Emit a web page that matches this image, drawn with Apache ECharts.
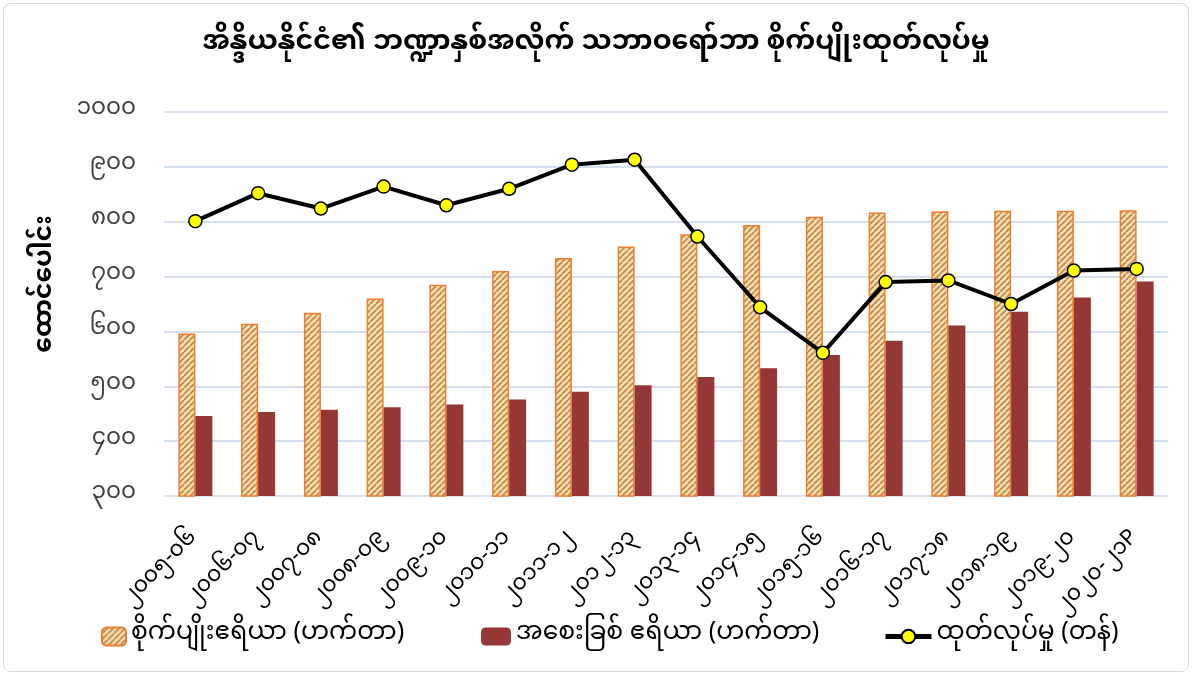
<!DOCTYPE html>
<html>
<head>
<meta charset="utf-8">
<script src="https://cdn.jsdelivr.net/npm/echarts@6/dist/echarts.min.js"></script>
<style>
    html, body { margin: 0; padding: 0; background: #fff; }
    #chart { position: absolute; left: 3px; top: 3px; width: 1186px; height: 669px;
        border: 1px solid #d9d9d9; border-radius: 8px; box-sizing: border-box; }
</style>
</head>
<body>
<div id="chart"></div>
<script>
var years = ['၂၀၀၅-၀၆', '၂၀၀၆-၀၇', '၂၀၀၇-၀၈', '၂၀၀၈-၀၉', '၂၀၀၉-၁၀', '၂၀၁၀-၁၁', '၂၀၁၁-၁၂', '၂၀၁၂-၁၃',
    '၂၀၁၃-၁၄', '၂၀၁၄-၁၅', '၂၀၁၅-၁၆', '၂၀၁၆-၁၇', '၂၀၁၇-၁၈', '၂၀၁၈-၁၉', '၂၀၁၉-၂၀', '၂၀၂၀-၂၁P']

var plantedArea = [596, 614, 634, 660, 685, 710, 734, 755, 777, 794, 809, 817, 819, 820, 820, 821]
var tappedArea = [446, 453, 457, 462, 467, 476, 490, 502, 517, 533, 557, 583, 611, 636, 662, 691]
var production = [801, 852, 824, 864, 830, 860, 904, 913, 773, 644, 561, 690, 693, 650, 711, 714]

var seriesNames = ['စိုက်ပျိုးဧရိယာ (ဟက်တာ)', 'အစေးခြစ် ဧရိယာ (ဟက်တာ)', 'ထုတ်လုပ်မှု (တန်)']
var myDigits = ['၀', '၁', '၂', '၃', '၄', '၅', '၆', '၇', '၈', '၉']

var mmFont = "'Noto Sans Myanmar', 'Padauk', 'Myanmar Text', 'Noto Sans', sans-serif"

function toMyanmar(n) {
    return String(n).replace(/[0-9]/g, function (d) { return myDigits[+d]; });
}

// hatch fill for the planted area bars
function hatch() {
    var c = document.createElement('canvas');
    c.width = 6; c.height = 6;
    var ctx = c.getContext('2d');
    ctx.fillStyle = '#fbe3ad';
    ctx.fillRect(0, 0, 6, 6);
    ctx.strokeStyle = '#c68f58';
    ctx.lineWidth = 2;
    for (var k = -6; k <= 12; k += 6) {
        ctx.beginPath();
        ctx.moveTo(k, 6);
        ctx.lineTo(k + 6, 0);
        ctx.stroke();
    }
    return c;
}

window.onload = function () {
    var chart = echarts.init(document.getElementById('chart'));
    var legendText = { fontFamily: mmFont, fontSize: 25, color: '#000' };

    var option = {
        title: {
            text: 'အိန္ဒိယနိုင်ငံ၏ ဘဏ္ဍာနှစ်အလိုက် သဘာဝရော်ဘာ စိုက်ပျိုးထုတ်လုပ်မှု',
            left: 'center',
            top: 24,
            textStyle: { fontFamily: mmFont, fontSize: 27, fontWeight: 'bold', color: '#000' }
        },
        legend: [
            { data: [seriesNames[0]], left: 92, top: 615, itemWidth: 24, itemHeight: 18, itemGap: 5, textStyle: legendText },
            { data: [seriesNames[1]], left: 472, top: 615, itemWidth: 30, itemHeight: 18, textStyle: legendText },
            { data: [seriesNames[2]], left: 874, top: 615, itemWidth: 46, itemHeight: 17, textStyle: legendText,
                lineStyle: { width: 5 } }
        ],
        grid: { left: 160, right: 20, top: 108, bottom: 175 },
        graphic: [{
            type: 'text',
            rotation: Math.PI / 2,
            x: 44,
            y: 280,
            style: {
                text: 'ထောင်ပေါင်း',
                font: 'bold 25px ' + mmFont,
                fill: '#000',
                align: 'center',
                verticalAlign: 'middle'
            }
        }],
        xAxis: {
            type: 'category',
            data: years,
            axisLine: { lineStyle: { color: '#dfe5ee', width: 1 } },
            axisTick: { show: false },
            axisLabel: { rotate: 45, fontFamily: mmFont, fontSize: 22, color: '#000', margin: 40 }
        },
        yAxis: {
            type: 'value',
            min: 300,
            max: 1000,
            interval: 100,
            axisLine: { show: false },
            axisTick: { show: false },
            splitLine: { lineStyle: { color: '#c8d5e8', width: 1.5 } },
            axisLabel: {
                fontFamily: mmFont, fontSize: 23, color: '#404040', margin: 28,
                formatter: function (v) { return toMyanmar(v); }
            }
        },
        series: [
            {
                name: seriesNames[0],
                type: 'bar',
                barWidth: 17,
                barGap: '0%',
                data: plantedArea,
                itemStyle: { color: { image: hatch(), repeat: 'repeat' }, borderColor: '#ed7d31', borderWidth: 1.5 }
            },
            {
                name: seriesNames[1],
                type: 'bar',
                barWidth: 17,
                data: tappedArea,
                itemStyle: { color: '#953735' }
            },
            {
                name: seriesNames[2],
                type: 'line',
                data: production,
                symbol: 'circle',
                symbolSize: 13,
                lineStyle: { color: '#000', width: 4 },
                itemStyle: { color: '#ffff00', borderColor: '#000', borderWidth: 1.5 },
                z: 5
            }
        ]
    };

    chart.setOption(option);

    window.onresize = function () {
        chart.resize();
    };
}
</script>
</body>
</html>
